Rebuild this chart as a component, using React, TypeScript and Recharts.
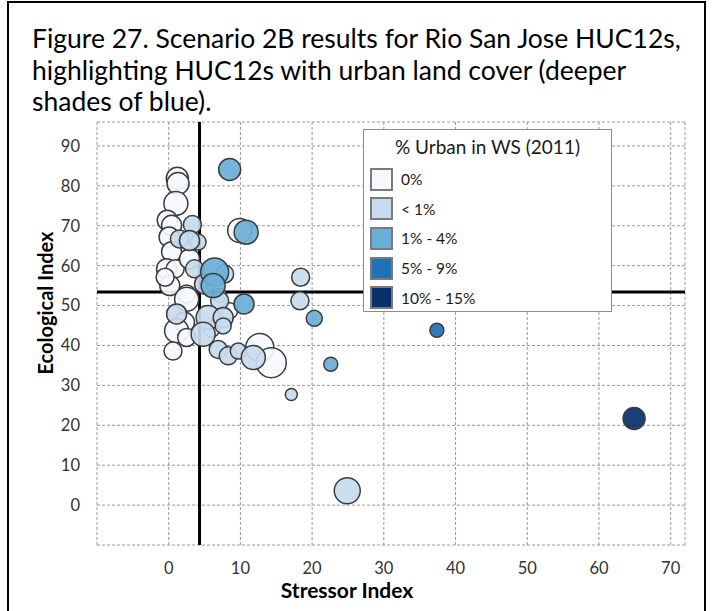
import React from 'react';
import { ScatterChart, Scatter, XAxis, YAxis, ZAxis, CartesianGrid, ReferenceLine, Legend } from 'recharts';

const titleLines = [
  'Figure 27. Scenario 2B results for Rio San Jose HUC12s,',
  'highlighting HUC12s with urban land cover (deeper',
  'shades of blue).',
];

const legendTitle = '% Urban in WS (2011)';
const categories = ['0%', '< 1%', '1% - 4%', '5% - 9%', '10% - 15%'];
const categoryColors = ['#f5f9fe', '#c6dbef', '#6baed6', '#2171b5', '#08306b'];

// x = Stressor Index, y = Ecological Index, z = bubble size
const urban0 = [
  { x: 1.2, y: 81.9, z: 121 },
  { x: 1.3, y: 80.6, z: 121 },
  { x: 1.0, y: 75.6, z: 144 },
  { x: -0.2, y: 71.4, z: 100 },
  { x: 0.4, y: 70.1, z: 100 },
  { x: 9.9, y: 68.8, z: 144 },
  { x: 0.05, y: 67.2, z: 100 },
  { x: 0.4, y: 63.5, z: 100 },
  { x: -0.3, y: 59.2, z: 100 },
  { x: 0.9, y: 59.2, z: 81 },
  { x: 2.9, y: 61.7, z: 100 },
  { x: 0.15, y: 55.0, z: 100 },
  { x: -0.5, y: 57.1, z: 81 },
  { x: 2.5, y: 52.9, z: 81 },
  { x: 2.5, y: 51.6, z: 144 },
  { x: 8.5, y: 48.7, z: 64 },
  { x: 2.2, y: 45.8, z: 100 },
  { x: 1.1, y: 43.7, z: 144 },
  { x: 2.5, y: 42.0, z: 81 },
  { x: 6.0, y: 44.1, z: 64 },
  { x: 0.6, y: 38.6, z: 81 },
  { x: 12.7, y: 39.5, z: 196 },
  { x: 14.3, y: 35.7, z: 225 },
];

const urbanUnder1 = [
  { x: 3.3, y: 70.3, z: 81 },
  { x: 1.5, y: 66.7, z: 81 },
  { x: 4.1, y: 65.9, z: 64 },
  { x: 2.9, y: 66.3, z: 100 },
  { x: 3.6, y: 59.2, z: 81 },
  { x: 7.8, y: 57.9, z: 81 },
  { x: 5.0, y: 55.4, z: 100 },
  { x: 7.1, y: 52.5, z: 49 },
  { x: 7.1, y: 51.2, z: 81 },
  { x: 18.4, y: 57.1, z: 81 },
  { x: 18.3, y: 51.2, z: 81 },
  { x: 1.1, y: 47.9, z: 100 },
  { x: 5.5, y: 47.0, z: 144 },
  { x: 7.6, y: 47.0, z: 100 },
  { x: 7.6, y: 44.9, z: 64 },
  { x: 4.8, y: 42.8, z: 144 },
  { x: 6.9, y: 39.0, z: 81 },
  { x: 8.3, y: 37.4, z: 81 },
  { x: 9.7, y: 38.6, z: 64 },
  { x: 11.8, y: 37.0, z: 144 },
  { x: 17.1, y: 27.7, z: 36 },
  { x: 24.9, y: 3.6, z: 169 },
];

const urban1to4 = [
  { x: 8.5, y: 84.1, z: 121 },
  { x: 10.8, y: 68.4, z: 144 },
  { x: 6.4, y: 58.4, z: 196 },
  { x: 6.2, y: 55.0, z: 144 },
  { x: 10.5, y: 50.4, z: 100 },
  { x: 20.3, y: 46.8, z: 64 },
  { x: 22.6, y: 35.3, z: 49 },
];

const urban5to9 = [{ x: 37.4, y: 43.8, z: 49 }];

const urban10to15 = [{ x: 64.9, y: 21.7, z: 121 }];

const seriesData = [urban0, urbanUnder1, urban1to4, urban5to9, urban10to15];

const xTicks = [-10, 0, 10, 20, 30, 40, 50, 60, 70];
const yTicks = [-10, 0, 10, 20, 30, 40, 50, 60, 70, 80, 90];
const xDomain = [-10, 72];
const yDomain = [-10, 96];
const stressorThreshold = 4.3;
const ecologicalThreshold = 53.4;

const FONT = 'Lato, "Open Sans", sans-serif';

const hideMinus10 = (v: number) => (v === -10 ? '' : String(v));

const LegendBox = () => (
  <div
    style={{
      width: 249,
      height: 183,
      boxSizing: 'border-box',
      border: '1.5px solid #8c8c8c',
      background: '#fff',
      fontFamily: FONT,
      color: '#1a1a1a',
      position: 'relative',
    }}
  >
    <div style={{ position: 'absolute', left: 0, right: 0, top: 5, textAlign: 'center', fontSize: 19, lineHeight: '24px' }}>
      {legendTitle}
    </div>
    {categories.map((c, i) => (
      <div key={c} style={{ position: 'absolute', left: 6, top: 37 + i * 29.7, height: 24, display: 'flex', alignItems: 'center' }}>
        <div
          style={{
            width: 23,
            height: 23,
            boxSizing: 'border-box',
            background: categoryColors[i],
            border: '2px solid #7a7a7a',
          }}
        />
        <span style={{ marginLeft: 8, fontSize: 15.5 }}>{c}</span>
      </div>
    ))}
  </div>
);

export default function App() {
  return (
    <div>
      <div
        style={{
          position: 'absolute',
          left: 7,
          top: 1,
          width: 699,
          height: 640,
          border: '2px solid #000',
          boxSizing: 'border-box',
          background: '#fff',
        }}
      />
      <div
        style={{
          position: 'absolute',
          left: 32,
          top: 23,
          fontFamily: FONT,
          fontSize: 26.5,
          lineHeight: '31.5px',
          color: '#000',
          whiteSpace: 'nowrap',
        }}
      >
        {titleLines.map((l) => (
          <div key={l}>{l}</div>
        ))}
      </div>
      <div style={{ position: 'absolute', left: 0, top: 0 }}>
        <ScatterChart width={713} height={611} margin={{ top: 122, right: 28, bottom: 36, left: 37 }}>
          <CartesianGrid stroke="#9a9a9a" strokeDasharray="3 2" />
          <XAxis
            type="number"
            dataKey="x"
            domain={xDomain}
            ticks={xTicks}
            interval={0}
            allowDataOverflow
            axisLine={false}
            tickLine={false}
            tickSize={0}
            tickMargin={17}
            height={30}
            tickFormatter={hideMinus10}
            tick={{ fontSize: 16.5, fontFamily: FONT, fill: '#333' }}
          />
          <YAxis
            type="number"
            dataKey="y"
            domain={yDomain}
            ticks={yTicks}
            interval={0}
            allowDataOverflow
            axisLine={false}
            tickLine={false}
            tickSize={0}
            tickMargin={17}
            width={60}
            tickFormatter={hideMinus10}
            tick={{ fontSize: 16.5, fontFamily: FONT, fill: '#333' }}
          />
          <ZAxis type="number" dataKey="z" domain={[0, 225]} range={[0, 707]} />
          <ReferenceLine x={stressorThreshold} stroke="#000" strokeWidth={3} />
          <ReferenceLine y={ecologicalThreshold} stroke="#000" strokeWidth={3} />
          {seriesData.map((d, i) => (
            <Scatter
              key={categories[i]}
              name={categories[i]}
              data={d}
              fill={categoryColors[i]}
              fillOpacity={0.92}
              stroke="#3c3c3c"
              strokeWidth={1.5}
              isAnimationActive={false}
            />
          ))}
          <Legend
            layout="vertical"
            align="center"
            verticalAlign="middle"
            wrapperStyle={{ left: 363, top: 129, width: 249, height: 183, margin: 0 }}
            content={() => <LegendBox />}
          />
        </ScatterChart>
      </div>
      <div
        style={{
          position: 'absolute',
          left: 45,
          top: 303,
          transform: 'translate(-50%, -50%) rotate(-90deg)',
          fontFamily: FONT,
          fontWeight: 700,
          fontSize: 20,
          lineHeight: '20px',
          whiteSpace: 'nowrap',
          color: '#000',
        }}
      >
        Ecological Index
      </div>
      <div
        style={{
          position: 'absolute',
          left: 347,
          top: 590,
          transform: 'translate(-50%, -50%)',
          fontFamily: FONT,
          fontWeight: 700,
          fontSize: 21,
          lineHeight: '18px',
          whiteSpace: 'nowrap',
          color: '#000',
        }}
      >
        Stressor Index
      </div>
    </div>
  );
}
